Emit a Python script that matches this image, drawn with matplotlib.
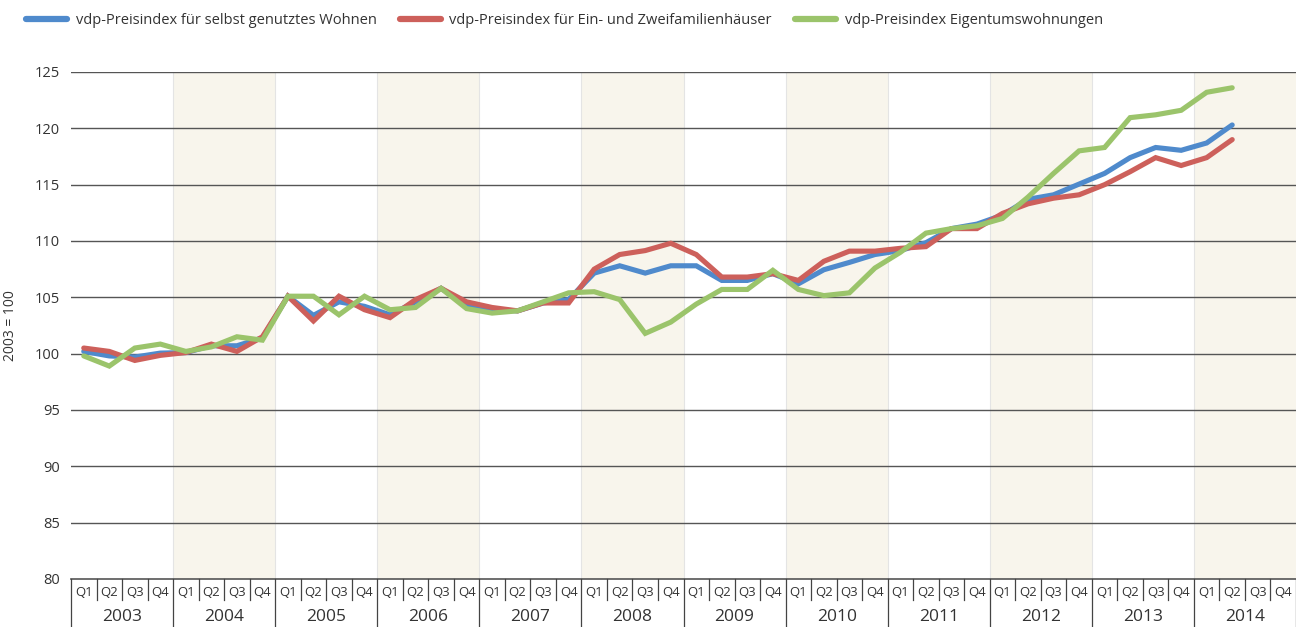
import matplotlib
matplotlib.use("Agg")
import matplotlib.pyplot as plt
from matplotlib.lines import Line2D
import matplotlib.transforms as mtrans

years = [str(y) for y in range(2003, 2015)]
quarters = ["Q1", "Q2", "Q3", "Q4"]

selbst = [100.2, 99.8, 99.7, 100.05, 100.1, 100.7, 100.7, 101.4,
          105.1, 103.4, 104.6, 104.2, 103.45, 104.6, 105.8, 104.3,
          103.9, 103.8, 104.5, 104.8, 107.15, 107.8, 107.15, 107.8,
          107.8, 106.5, 106.5, 107.1, 106.2, 107.45, 108.1, 108.8,
          109.15, 109.85, 111.1, 111.5, 112.3, 113.7, 114.1, 115.05,
          116.0, 117.4, 118.3, 118.05, 118.7, 120.3]
ezfh = [100.5, 100.2, 99.4, 99.85, 100.1, 100.85, 100.2, 101.5,
        105.1, 102.9, 105.1, 103.9, 103.2, 104.8, 105.8, 104.6,
        104.1, 103.8, 104.5, 104.5, 107.5, 108.8, 109.15, 109.8,
        108.8, 106.8, 106.8, 107.1, 106.5, 108.2, 109.1, 109.1,
        109.35, 109.5, 111.1, 111.1, 112.45, 113.3, 113.8, 114.1,
        115.0, 116.15, 117.4, 116.7, 117.4, 119.0]
etw = [99.8, 98.9, 100.5, 100.85, 100.2, 100.6, 101.5, 101.2,
       105.1, 105.1, 103.45, 105.1, 103.9, 104.1, 105.8, 104.0,
       103.6, 103.8, 104.6, 105.4, 105.5, 104.8, 101.8, 102.8,
       104.4, 105.7, 105.7, 107.4, 105.7, 105.15, 105.4, 107.6,
       109.0, 110.7, 111.1, 111.35, 112.0, 113.9, 116.0, 118.0,
       118.3, 120.95, 121.2, 121.6, 123.2, 123.6]

labels = ["vdp-Preisindex für selbst genutztes Wohnen",
          "vdp-Preisindex für Ein- und Zweifamilienhäuser",
          "vdp-Preisindex Eigentumswohnungen"]
colors = ["#4F8ACC", "#CD605B", "#9BC46B"]
yticks = [80, 85, 90, 95, 100, 105, 110, 115, 120, 125]

plt.rcParams['font.family'] = ['Open Sans', 'DejaVu Sans']

fig = plt.figure(figsize=(12.96, 6.27), dpi=100)
ax = fig.add_axes([71/1296, 1-579/627, (1296-71)/1296, (579-72)/627])

nq = len(years) * 4
ax.set_xlim(0, nq)
ax.set_ylim(80, 125)

# shaded alternate years
for k in range(1, len(years), 2):
    ax.axvspan(4*k, 4*k+4, color="#F8F5EC", zorder=0, lw=0)
# faint year separators
for k in range(1, len(years)):
    ax.axvline(4*k, color="#E4E4E4", lw=0.8, zorder=0.5)

for t in yticks[1:]:
    ax.axhline(t, color="#555555", lw=1.0, zorder=1)

xs = [i + 0.5 for i in range(len(selbst))]
for series, c in zip([selbst, ezfh, etw], colors):
    ax.plot(xs, series, color=c, lw=3.7, solid_capstyle="round",
            solid_joinstyle="miter", zorder=3)

ax.set_yticks(yticks)
ax.set_yticklabels([str(t) for t in yticks], fontsize=10.5, color="#333333")
ax.tick_params(axis="y", length=0, pad=8)
ax.set_xticks([])
for s in ["top", "right", "left"]:
    ax.spines[s].set_visible(False)
ax.spines["bottom"].set_color("#555555")
ax.spines["bottom"].set_linewidth(1.2)
ax.set_ylabel("2003 = 100", fontsize=10, color="#333333", labelpad=12)

# category axis (quarters + years)
trans = mtrans.blended_transform_factory(ax.transData, fig.transFigure)
y_axis = 1 - 579/627
y_q_bottom = 1 - 603/627
y_bottom = 0.0
for i in range(nq):
    ax.text(i + 0.5, 1 - 592/627, quarters[i % 4], transform=trans,
            ha="center", va="center", fontsize=9.5, color="#333333")
for i in range(nq + 1):
    if i % 4 == 0:
        fig.add_artist(Line2D([i, i], [y_axis, y_bottom], transform=trans,
                              color="#444444", lw=0.9))
    else:
        fig.add_artist(Line2D([i, i], [y_axis, y_q_bottom + 0.005], transform=trans,
                              color="#444444", lw=0.9))
for k, yr in enumerate(years):
    ax.text(4*k + 2, 1 - 617/627, yr, transform=trans,
            ha="center", va="center", fontsize=12.5, color="#333333")

handles = [Line2D([], [], color=c, lw=4.5, solid_capstyle="round") for c in colors]
fig.legend(handles, labels, loc="upper left", bbox_to_anchor=(0.01, 1.0),
           ncol=3, frameon=False, fontsize=10.5, handlelength=2.8,
           handletextpad=0.6, columnspacing=1.6, labelcolor="#333333")

fig.savefig("out.png", dpi=100)
